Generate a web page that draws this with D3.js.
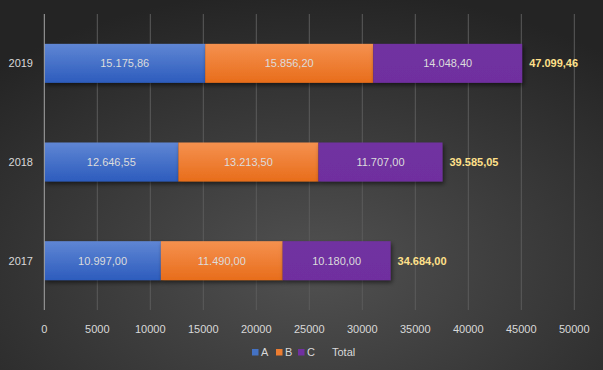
<!DOCTYPE html>
<html><head><meta charset="utf-8">
<script src="https://cdn.jsdelivr.net/npm/d3@7"></script>
<style>html,body{margin:0;padding:0;background:#333}svg{display:block}</style>
</head><body>
<svg id="c" width="603" height="370"></svg>
<script>
const years = ["2019", "2018", "2017"];
const seriesA = [15175.86, 12646.55, 10997.00];
const seriesB = [15856.20, 13213.50, 11490.00];
const seriesC = [14048.40, 11707.00, 10180.00];
const totals = [47099.46, 39585.05, 34684.00];
const seriesNames = ["A", "B", "C", "Total"];
const xTicks = [0, 5000, 10000, 15000, 20000, 25000, 30000, 35000, 40000, 45000, 50000];

const W = 603, H = 370;
const svg = d3.select("#c");
const defs = svg.append("defs");
const bg = defs.append("radialGradient").attr("id","bg").attr("cx","52%").attr("cy","72%").attr("r","75%");
bg.append("stop").attr("offset","0%").attr("stop-color","#515151");
bg.append("stop").attr("offset","100%").attr("stop-color","#242424");
function vgrad(id, c1, c2){
  const g = defs.append("linearGradient").attr("id",id).attr("x1",0).attr("y1",0).attr("x2",0).attr("y2",1);
  g.append("stop").attr("offset","0%").attr("stop-color",c1);
  g.append("stop").attr("offset","100%").attr("stop-color",c2);
}
vgrad("gA","#5f86d4","#2d5cbd");
vgrad("gB","#f5914f","#e86d1b");
vgrad("gC","#7131a1","#6f2f9f");
const sh = defs.append("filter").attr("id","sh").attr("x","-5%").attr("y","-20%").attr("width","115%").attr("height","160%");
sh.append("feDropShadow").attr("dx",1.5).attr("dy",2.5).attr("stdDeviation",2).attr("flood-color","#000").attr("flood-opacity",0.55);

svg.append("rect").attr("width",W).attr("height",H).attr("fill","url(#bg)");

const x = d3.scaleLinear().domain([0,50000]).range([44.3,574.3]);
const y = d3.scaleBand().domain(years).range([14,310]).paddingInner(0.605).paddingOuter(0.3025);

const loc = d3.formatLocale({decimal:",", thousands:".", grouping:[3], currency:["",""]});
const fmt = loc.format(",.2f");
const font = "'Liberation Sans', Arial, sans-serif";

// gridlines
svg.append("g").selectAll("line").data(xTicks.slice(1)).join("line")
  .attr("x1",d=>x(d)).attr("x2",d=>x(d)).attr("y1",14).attr("y2",310)
  .attr("stroke","#5c5c5c").attr("stroke-width",1);

// x tick labels
svg.append("g").selectAll("text").data(xTicks).join("text")
  .attr("x",d=>x(d)).attr("y",333).attr("text-anchor","middle")
  .attr("font-family",font).attr("font-size",11).attr("fill","#d9d9d9").text(d=>d);

const rows = years.map((yr,i)=>({yr, a:seriesA[i], b:seriesB[i], c:seriesC[i], t:totals[i]}));
const stack = d3.stack().keys(["a","b","c"])(rows);
const fills = ["url(#gA)","url(#gB)","url(#gC)"];

const gb = svg.append("g");
stack.forEach((s,k)=>{
  gb.append("g").selectAll("rect").data(s).join("rect")
    .attr("x",d=>x(d[0])).attr("width",d=>x(d[1])-x(d[0]))
    .attr("y",d=>y(d.data.yr)).attr("height",y.bandwidth())
    .attr("fill",fills[k]).attr("filter","url(#sh)");
});
stack.forEach((s,k)=>{
  gb.append("g").selectAll("text").data(s).join("text")
    .attr("x",d=>(x(d[0])+x(d[1]))/2).attr("y",d=>y(d.data.yr)+y.bandwidth()/2+4)
    .attr("text-anchor","middle").attr("font-family",font).attr("font-size",11)
    .attr("fill","#dcdcdc").text(d=>fmt(d[1]-d[0]));
});
// totals
const last = stack[stack.length-1];
svg.append("g").selectAll("text").data(last).join("text")
  .attr("x",d=>x(d[1])+7).attr("y",d=>y(d.data.yr)+y.bandwidth()/2+4)
  .attr("font-family",font).attr("font-size",11).attr("font-weight","bold")
  .attr("fill","#ffe08a").text((d,i)=>fmt(totals[i]));

// axis line at 0
svg.append("line").attr("x1",x(0)).attr("x2",x(0)).attr("y1",14).attr("y2",310)
  .attr("stroke","#a6a6a6").attr("stroke-width",1);

// year labels
svg.append("g").selectAll("text").data(years).join("text")
  .attr("x",33).attr("y",d=>y(d)+y.bandwidth()/2+4).attr("text-anchor","end")
  .attr("font-family",font).attr("font-size",11).attr("fill","#d9d9d9").text(d=>d);

// legend
const legColors = ["#4472c4","#ed7d31","#7030a0",null];
const legX = [252, 276, 298, 332];
const lg = svg.append("g");
seriesNames.forEach((n,i)=>{
  if(legColors[i]) lg.append("rect").attr("x",legX[i]).attr("y",349).attr("width",6.5).attr("height",6.5).attr("fill",legColors[i]);
  lg.append("text").attr("x",legColors[i]?legX[i]+9:legX[i]).attr("y",356)
    .attr("font-family",font).attr("font-size",11).attr("fill","#d9d9d9").text(n);
});
</script>
</body></html>
